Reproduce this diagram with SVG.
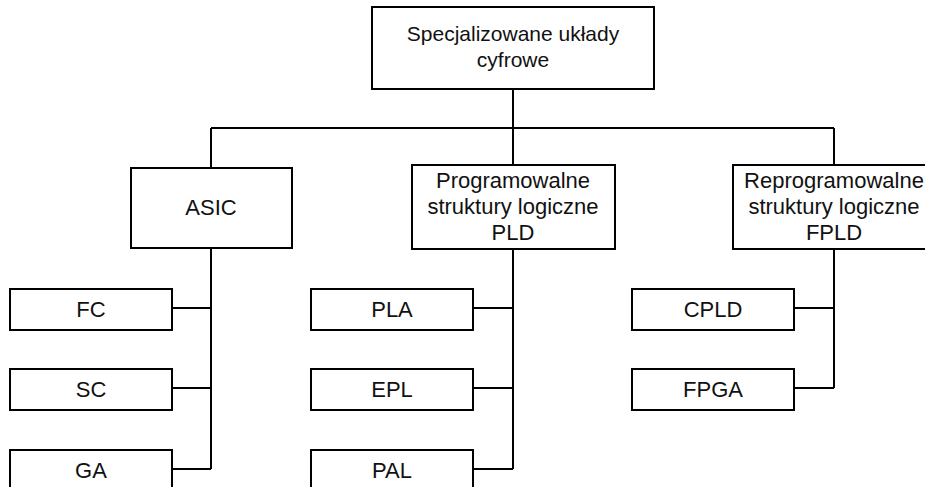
<svg xmlns="http://www.w3.org/2000/svg" width="925" height="487" viewBox="0 0 925 487">
<style>
.box{fill:#fff;stroke:#000;stroke-width:2}
.t{font-family:"Liberation Sans",Arial,sans-serif;font-size:22px;fill:#111;text-anchor:middle}
.top{font-size:21px}
.c{fill:none;stroke:#000;stroke-width:2}
</style>
<rect width="925" height="487" fill="#fff"/>
<g id="connectors">
<path class="c" d="M513 89V128M211 128H834M211 128V168M513 128V165M834 128V165"/>
<path class="c" d="M211 248V469M172 308H211M172 388H211M172 469H211"/>
<path class="c" d="M513 249V469M473 308H513M473 388H513M473 469H513"/>
<path class="c" d="M834 249V388M794 308H834M794 388H834"/>
</g>
<g id="root"><rect class="box" x="372" y="7" width="282" height="82"/>
<text class="t top" x="513" y="41">Specjalizowane układy</text>
<text class="t top" x="513" y="67">cyfrowe</text></g>
<g id="asic"><rect class="box" x="131" y="168" width="161" height="80"/>
<text class="t" x="211" y="215">ASIC</text></g>
<g id="pld"><rect class="box" x="412" y="165" width="203" height="84"/>
<text class="t" x="513" y="188">Programowalne</text>
<text class="t" x="513" y="214">struktury logiczne</text>
<text class="t" x="513" y="240">PLD</text></g>
<g id="fpld"><rect class="box" x="733" y="165" width="202" height="84"/>
<text class="t" x="834" y="188">Reprogramowalne</text>
<text class="t" x="834" y="214">struktury logiczne</text>
<text class="t" x="834" y="240">FPLD</text></g>
<g id="fc"><rect class="box" x="10" y="289" width="162" height="41"/><text class="t" x="91" y="317">FC</text></g>
<g id="sc"><rect class="box" x="10" y="369" width="162" height="41"/><text class="t" x="91" y="397">SC</text></g>
<g id="ga"><rect class="box" x="10" y="450" width="162" height="41"/><text class="t" x="91" y="478">GA</text></g>
<g id="pla"><rect class="box" x="311" y="289" width="162" height="41"/><text class="t" x="392" y="317">PLA</text></g>
<g id="epl"><rect class="box" x="311" y="369" width="162" height="41"/><text class="t" x="392" y="397">EPL</text></g>
<g id="pal"><rect class="box" x="311" y="450" width="162" height="41"/><text class="t" x="392" y="478">PAL</text></g>
<g id="cpld"><rect class="box" x="632" y="289" width="162" height="41"/><text class="t" x="713" y="317">CPLD</text></g>
<g id="fpga"><rect class="box" x="632" y="369" width="162" height="41"/><text class="t" x="713" y="397">FPGA</text></g>
</svg>
